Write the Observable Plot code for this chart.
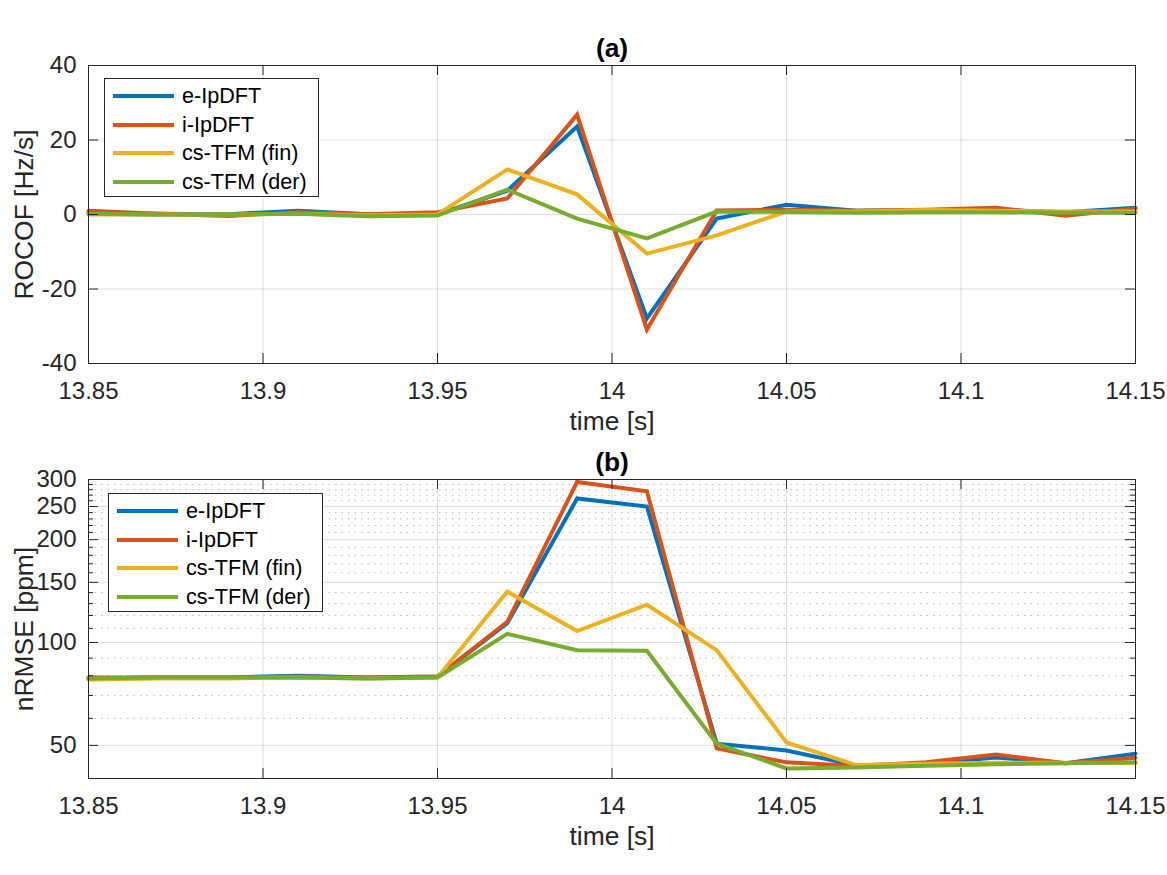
<!DOCTYPE html>
<html>
<head>
<meta charset="utf-8">
<script src="https://cdn.jsdelivr.net/npm/d3@7"></script>
<script src="https://cdn.jsdelivr.net/npm/@observablehq/plot@0.6"></script>
<style>
  html, body { margin: 0; padding: 0; background: #fff; }
  #fig { position: relative; width: 1167px; height: 875px; font-family: "Liberation Sans", Arial, Helvetica, sans-serif; color: #262626; }
  #fig svg { display: block; }
  .legend { position: absolute; width: 213px; height: 117px; border: 1px solid #262626; background: #fff; }
  .legend .row { position: absolute; left: 0; height: 28px; display: flex; align-items: center; }
  .legend .sw { width: 61px; height: 4px; margin-left: 8px; margin-right: 8px; }
  .legend .lbl { font-size: 21.6px; color: #000; white-space: nowrap; }
</style>
</head>
<body>
<div id="fig"></div>
<script>
// ---------- data ----------
const time = [13.85, 13.87, 13.89, 13.91, 13.93, 13.95, 13.97, 13.99, 14.01, 14.03, 14.05, 14.07, 14.09, 14.11, 14.13, 14.15];
const seriesNames = ["e-IpDFT", "i-IpDFT", "cs-TFM (fin)", "cs-TFM (der)"];
const seriesColors = ["#0072BD", "#D95319", "#EDB120", "#77AC30"];

// (a) ROCOF [Hz/s]
const rocofE   = [0.5, 0.2, 0.1, 1.0, 0.1, 0.0, 6.4, 23.6, -27.9, -1.1, 2.6, 1.0, 1.2, 1.3, 0.6, 1.8];
const rocofI   = [1.0, 0.2, -0.4, 0.6, 0.1, 0.6, 4.3, 26.8, -30.9, 1.1, 1.3, 1.0, 1.3, 1.8, -0.3, 1.6];
const rocofFin = [0.0, 0.0, 0.0, 0.2, -0.2, 0.0, 12.1, 5.4, -10.5, -5.6, 0.8, 0.8, 1.2, 1.0, 0.8, 0.8];
const rocofDer = [0.2, -0.1, 0.0, 0.2, -0.5, -0.3, 6.7, -1.1, -6.4, 0.8, 0.7, 0.5, 0.6, 0.6, 0.5, 0.5];

// (b) nRMSE [ppm]
const rmseE   = [78.5, 79, 79, 80, 79, 79.5, 114, 264, 250, 50.6, 48.3, 43.7, 44.2, 46.1, 44.3, 47.3];
const rmseI   = [79, 79, 79, 79.5, 79, 79.5, 115, 295, 277, 49, 44.6, 43.5, 44.6, 47, 44.3, 46];
const rmseFin = [78, 78.5, 78.5, 79, 78.5, 79, 141, 108, 129, 95, 51, 43.8, 44.2, 44.5, 44.5, 44.3];
const rmseDer = [78.5, 79, 79, 79, 78.5, 79, 106, 95, 94.6, 50.6, 42.8, 43.1, 43.6, 44, 44.3, 44.6];

// ticks
const xTicks = [13.85, 13.9, 13.95, 14, 14.05, 14.1, 14.15];
const xTickLabels = ["13.85", "13.9", "13.95", "14", "14.05", "14.1", "14.15"];
const rocofTicks = [-40, -20, 0, 20, 40];
const rmseTicks = [50, 100, 150, 200, 250, 300];
const rmseMinor = [40, 60, 70, 80, 90, 110, 120, 130, 140, 160, 170, 180, 190, 210, 220, 230, 240, 260, 270, 280, 290];

// ---------- helpers ----------
const FONT = '"Liberation Sans", Arial, Helvetica, sans-serif';
const INK = "#262626";
const W = 1167, ML = 88, MR = 32;
const FW = W - ML - MR;

function rowsOf(arrays) {
  const out = [];
  arrays.forEach((arr, i) => arr.forEach((v, j) => out.push({time: time[j], value: v, series: seriesNames[i]})));
  return out;
}

function panel({height, mt, mb, yOpts, yTicks, yMinor, data, title, ylabel}) {
  const FH = height - mt - mb;
  const marks = [];
  // grid
  marks.push(Plot.ruleX(xTicks, {x: d => d, stroke: INK, strokeOpacity: 0.15, strokeWidth: 1}));
  if (yMinor) marks.push(Plot.ruleY(yMinor, {y: d => d, stroke: INK, strokeOpacity: 0.3, strokeWidth: 1, strokeDasharray: "1.5,5"}));
  marks.push(Plot.ruleY(yTicks, {y: d => d, stroke: INK, strokeOpacity: 0.15, strokeWidth: 1}));
  // data
  marks.push(Plot.line(data, {x: "time", y: "value", stroke: "series", strokeWidth: 4, strokeLinejoin: "miter", strokeMiterlimit: 10}));
  // frame & inward ticks on all sides
  marks.push(Plot.frame({stroke: INK, strokeWidth: 1}));
  marks.push(Plot.tickX(xTicks, {x: d => d, insetTop: FH - 10, stroke: INK}));
  marks.push(Plot.tickX(xTicks, {x: d => d, insetBottom: FH - 10, stroke: INK}));
  marks.push(Plot.tickY(yTicks, {y: d => d, insetRight: FW - 10, stroke: INK}));
  marks.push(Plot.tickY(yTicks, {y: d => d, insetLeft: FW - 10, stroke: INK}));
  if (yMinor) {
    marks.push(Plot.tickY(yMinor, {y: d => d, insetRight: FW - 5, stroke: INK}));
    marks.push(Plot.tickY(yMinor, {y: d => d, insetLeft: FW - 5, stroke: INK}));
  }
  // axes labels
  marks.push(Plot.axisX(xTicks, {tickSize: 0, tickPadding: 18, fontSize: 24, fill: INK, label: null,
    tickFormat: d => xTickLabels[xTicks.indexOf(d)]}));
  marks.push(Plot.axisY(yTicks, {tickSize: 0, tickPadding: 12, fontSize: 24, fill: INK, label: null,
    tickFormat: d => String(d)}));
  marks.push(Plot.text(["time [s]"], {frameAnchor: "bottom", textAnchor: "middle", lineAnchor: "bottom", dy: 66, fontSize: 26.4, fill: INK}));
  marks.push(Plot.text([ylabel], {frameAnchor: "left", textAnchor: "middle", lineAnchor: "bottom", rotate: -90, dx: -56, fontSize: 26.4, fill: INK}));
  marks.push(Plot.text([title], {frameAnchor: "top", textAnchor: "middle", lineAnchor: "bottom", dy: -9, fontSize: 26.4, fontWeight: "bold", fill: "#000"}));

  return Plot.plot({
    width: W, height,
    marginLeft: ML, marginRight: MR, marginTop: mt, marginBottom: mb,
    style: {fontFamily: FONT, background: "#fff", color: INK, overflow: "visible"},
    x: {domain: [13.85, 14.15]},
    y: yOpts,
    color: {domain: seriesNames, range: seriesColors},
    marks
  });
}

function legend(left, top) {
  const div = document.createElement("div");
  div.className = "legend";
  div.style.left = left + "px";
  div.style.top = top + "px";
  seriesNames.forEach((name, i) => {
    const row = document.createElement("div");
    row.className = "row";
    row.style.top = (3 + i * 28.7) + "px";
    const sw = document.createElement("div");
    sw.className = "sw";
    sw.style.background = seriesColors[i];
    const lbl = document.createElement("span");
    lbl.className = "lbl";
    lbl.textContent = name;
    row.appendChild(sw);
    row.appendChild(lbl);
    div.appendChild(row);
  });
  return div;
}

const fig = document.getElementById("fig");

fig.appendChild(panel({
  height: 437, mt: 65, mb: 74,
  yOpts: {domain: [-40, 40]},
  yTicks: rocofTicks, yMinor: null,
  data: rowsOf([rocofE, rocofI, rocofFin, rocofDer]),
  title: "(a)", ylabel: "ROCOF [Hz/s]"
}));
fig.appendChild(panel({
  height: 438, mt: 42, mb: 97,
  yOpts: {type: "log", domain: [40, 300]},
  yTicks: rmseTicks, yMinor: rmseMinor,
  data: rowsOf([rmseE, rmseI, rmseFin, rmseDer]),
  title: "(b)", ylabel: "nRMSE [ppm]"
}));

fig.appendChild(legend(104, 78));
fig.appendChild(legend(108, 493));
</script>
</body>
</html>
